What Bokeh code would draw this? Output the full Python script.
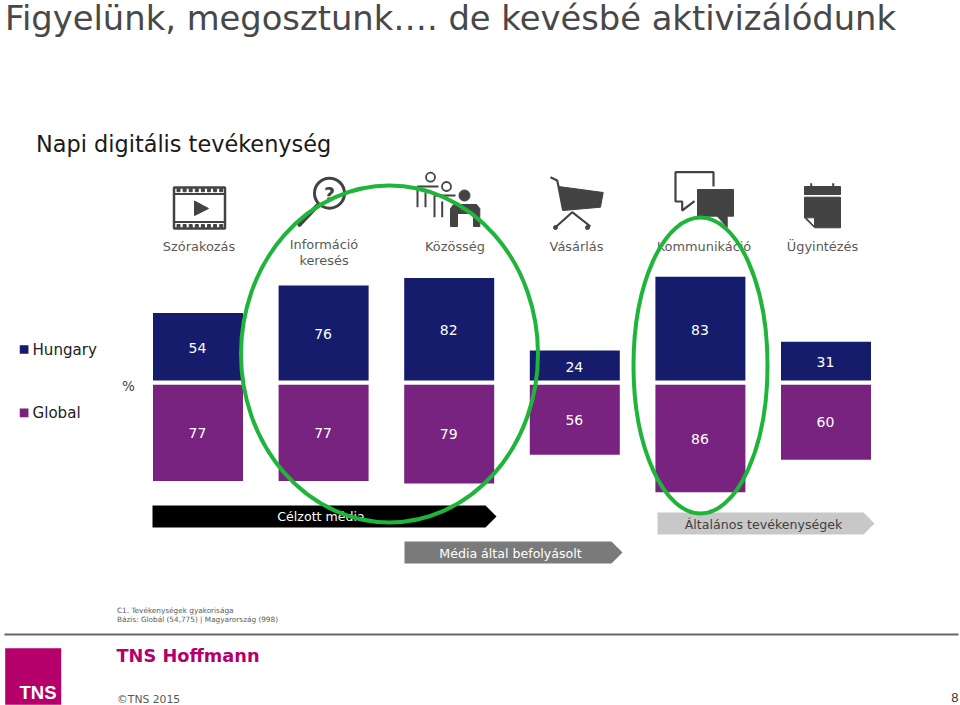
from bokeh.plotting import figure
from bokeh.embed import file_html
from bokeh.resources import INLINE
from bokeh.core.properties import value
from bokeh.models import Range1d

categories = ["Szórakozás", "Információ\nkeresés", "Közösség", "Vásárlás", "Kommunikáció", "Ügyintézés"]
hungary = [54, 76, 82, 24, 83, 31]
global_ = [77, 77, 79, 56, 86, 60]
series_names = ["Hungary", "Global"]

W, H = 960, 705
NAVY, PURPLE, GREEN, INK, MAGENTA = "#141c6b", "#78237f", "#1fb53a", "#434343", "#b5006c"
FONT = value("DejaVu Sans")

p = figure(width=W, height=H, x_range=Range1d(0, W), y_range=Range1d(H, 0),
           toolbar_location=None, output_backend="svg", min_border=0,
           background_fill_color="white",
           outline_line_color=None, x_axis_type=None, y_axis_type=None)
p.grid.visible = False

PX = 1.25
STEP = 125.6
X0 = 197.5
p.extra_x_ranges["cat"] = Range1d(-X0 / STEP, (W - X0) / STEP)
p.extra_y_ranges["hu"] = Range1d((380 - H) / PX, 380 / PX)
p.extra_y_ranges["gl"] = Range1d((H - 384.3) / PX, -384.3 / PX)
idx = list(range(len(categories)))


def txt(x, y, s, size, color=INK, align="center", style="normal", font=FONT):
    p.text([x], [y], text=[s], text_font=font, text_font_size=f"{size}px", text_color=color,
           text_align=align, text_baseline="middle", text_font_style=style)


txt(4.5, 18, "Figyelünk, megosztunk…. de kevésbé aktivizálódunk", 33.75, "#484848", "left")
txt(35.5, 143.5, "Napi digitális tevékenység", 22.4, "#1a1a1a", "left")

bar_w = 90 / STEP
p.vbar(x=idx, top=hungary, bottom=0, width=bar_w, fill_color=NAVY, line_color=None,
       x_range_name="cat", y_range_name="hu")
p.vbar(x=idx, top=global_, bottom=0, width=bar_w, fill_color=PURPLE, line_color=None,
       x_range_name="cat", y_range_name="gl")

label_x = [198.5, 323.5, 454.5, 576, 703.5, 822]
for i in idx:
    x = X0 + i * STEP - 0.5
    txt(x, 380 - hungary[i] * PX / 2 + 1, str(hungary[i]), 14, "white")
    txt(x, 384.3 + global_[i] * PX / 2, str(global_[i]), 14, "white")
    lines = categories[i].split("\n")
    if len(lines) == 2:
        txt(label_x[i], 244, lines[0], 12.9, "#595959")
        txt(label_x[i], 260, lines[1], 12.9, "#595959")
    else:
        txt(label_x[i], 245.5, lines[0], 12.9, "#595959")

# legend
p.rect([23.6], [349], 8.7, 8.7, fill_color=NAVY, line_color=None)
p.rect([23.6], [412.4], 8.7, 8.7, fill_color=PURPLE, line_color=None)
txt(32, 349, series_names[0], 15.1, "#222222", "left")
txt(32, 412, series_names[1], 15.1, "#222222", "left")
txt(128, 385, "%", 13.5, "#404040")

# arrows
p.patch([152, 485, 496, 485, 152], [505, 505, 516, 527, 527], fill_color="black", line_color=None)
p.patch([404, 611, 622, 611, 404], [541, 541, 552, 563, 563], fill_color="#7a7a7a", line_color=None)
p.patch([657, 863, 874, 863, 657], [512, 512, 523, 534, 534], fill_color="#c8c8c8", line_color=None)
txt(320.5, 516, "Célzott média", 12.6, "white")
txt(510, 552.5, "Média által befolyásolt", 12.6, "white")
txt(763, 524, "Általános tevékenységek", 12.6, "#404040")

# film icon
p.rect([199], [207.5], 51, 41, fill_color=None, line_color=INK, line_width=2.5)
p.multi_line([[174, 224], [174, 224]], [[193.5, 193.5], [221.5, 221.5]], line_color=INK, line_width=2)
for k in range(8):
    p.rect([178 + k * 6.1], [189.7], 3, 3, color=INK)
    p.rect([178 + k * 6.1], [225.5], 3, 3, color=INK)
p.patch([194, 208, 194], [200.5, 208, 215], color=INK)
# magnifier icon
p.circle([329], [192.7], radius=15, fill_color=None, line_color=INK, line_width=3)
p.line([317, 299], [205, 224], line_color=INK, line_width=4.5, line_cap="round")
txt(329, 193, "?", 19, INK, style="bold")
# people icon
p.circle([430], [176.7], radius=4.5, fill_color=None, line_color=INK, line_width=1.8)
p.circle([446], [186], radius=4.5, fill_color=None, line_color=INK, line_width=1.8)
p.multi_line([[417, 417, 438], [425, 425], [434, 434, 455], [441.7, 441.7]],
             [[206.7, 186, 186], [206.7, 192], [216.7, 195, 195], [216.7, 201]],
             line_color=INK, line_width=2)
p.circle([464], [195], radius=5.5, color=INK)
p.patch([450, 450, 453, 476, 479.3, 479.3, 473, 473, 457, 457],
        [226, 208, 204, 204, 208, 226, 226, 213, 213, 226], color=INK)
# cart icon
p.patch([558, 602.7, 600, 562.7], [186, 192, 206.7, 210], color=INK)
p.line([550, 556.7, 558, 562.7], [176.7, 180, 186, 210], line_color=INK, line_width=2.2)
p.line([555, 571.7, 590], [226.7, 211.7, 226], line_color=INK, line_width=2.2)
p.circle([555, 587], [227, 227], radius=2, color=INK)
# speech icon
p.line([713, 713, 675, 675, 681.7, 681.7, 694], [186, 171.7, 171.7, 201, 201, 210, 200.7],
       line_color=INK, line_width=2.2)
p.patch([697, 733, 733, 726.7, 726.7, 716.7, 697], [189, 189, 215.7, 215.7, 226.7, 215.7, 215.7], color=INK)
# calendar icon
p.patch([804, 840, 840, 804], [186, 186, 194, 194], color=INK)
p.multi_line([[810.7, 810.7], [832.7, 832.7]], [[182.7, 190], [182.7, 190]], line_color=INK, line_width=2)
p.patch([804, 840, 840, 814, 804], [196.7, 196.7, 227.3, 227.3, 217.3], color=INK)
p.patch([805.7, 814, 814], [217.3, 217.3, 226], fill_color="white", line_color=INK, line_width=1)

# green ellipses
p.ellipse([389], [353.5], width=297, height=337, fill_color=None, line_color=GREEN, line_width=4)
p.ellipse([700], [365], width=134, height=296, fill_color=None, line_color=GREEN, line_width=4)

# footer
txt(116.5, 610, "C1. Tevékenységek gyakorisága", 7.3, "#595959", "left")
txt(116.5, 619, "Bázis: Globál (54,775) | Magyarország (998)", 7.3, "#595959", "left")
p.line([4, 958], [634, 634], line_color="#666666", line_width=2)
p.rect([32.7], [676], 56, 56.5, fill_color=MAGENTA, line_color=None)
txt(56, 692, "TNS", 18.5, "white", "right", "bold", value("Liberation Sans"))
txt(116, 655, "TNS Hoffmann", 17.75, MAGENTA, "left", "bold")
txt(116.5, 699, "©TNS 2015", 10.8, "#595959", "left")
txt(958, 697, "8", 13, "#333333", "right", "normal", value("Liberation Sans"))

open("out.html", "w").write(file_html(p, INLINE))
